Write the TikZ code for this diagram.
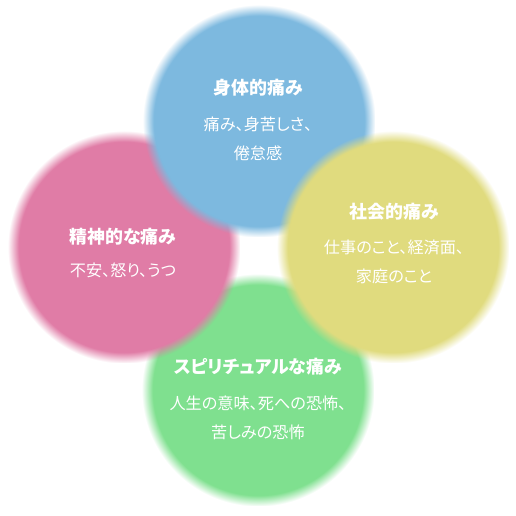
\documentclass[tikz,border=0pt]{standalone}
\usepackage{fontspec}
\usetikzlibrary{fadings}
\setmainfont{Noto Sans CJK JP}[RawFeature=+palt]
\definecolor{bodyblue}{HTML}{7DB9DF}
\definecolor{mindpink}{HTML}{E07CA6}
\definecolor{socialyellow}{HTML}{E0DB7E}
\definecolor{spiritgreen}{HTML}{7FE08F}
\pgfdeclareradialshading{blobshade}{\pgfpointorigin}{color(0bp)=(pgftransparent!0); color(22.6bp)=(pgftransparent!0); color(25bp)=(pgftransparent!100); color(50bp)=(pgftransparent!100)}
\pgfdeclarefading{blobedge}{\pgfuseshading{blobshade}}
\newcommand{\createblob}[4]{\fill[#3, path fading=blobedge] ( #1 - 116 , #2 - 116 ) rectangle ( #1 + 116 , #2 + 116 ); \coordinate (#4) at ( #1 , #2 );}
\tikzset{heading/.style={text=white, font=\fontsize{10.2}{12}\selectfont\bfseries},
  detail/.style={text=white, align=center, font=\fontsize{9.2}{16.6}\selectfont}}

\begin{document}
\begin{tikzpicture}[x=0.02cm, y=-0.02cm]
    \useasboundingbox (0,0) rectangle (516,516);
    %blobs
    \createblob{258}{390}{spiritgreen}{spirit}
    \createblob{124}{247}{mindpink}{mind}
    \createblob{259}{121}{bodyblue}{body}
    \createblob{393}{247}{socialyellow}{social}
    %texts
    \node[heading] (bodytitle) at (258,88) {身体的痛み};
    \node[detail] (bodytext) at (258,138.5) {痛み、身苦しさ、\\倦怠感};
    \node[heading] (mindtitle) at (123,237) {精神的な痛み};
    \node[detail] (mindtext) at (123,270) {不安、怒り、うつ};
    \node[heading] (socialtitle) at (394,212) {社会的痛み};
    \node[detail] (socialtext) at (394,262) {仕事のこと、経済面、\\家庭のこと};
    \node[heading] (spirittitle) at (258,367) {スピリチュアルな痛み};
    \node[detail] (spirittext) at (258,417.5) {人生の意味、死への恐怖、\\苦しみの恐怖};
\end{tikzpicture}
\end{document}
